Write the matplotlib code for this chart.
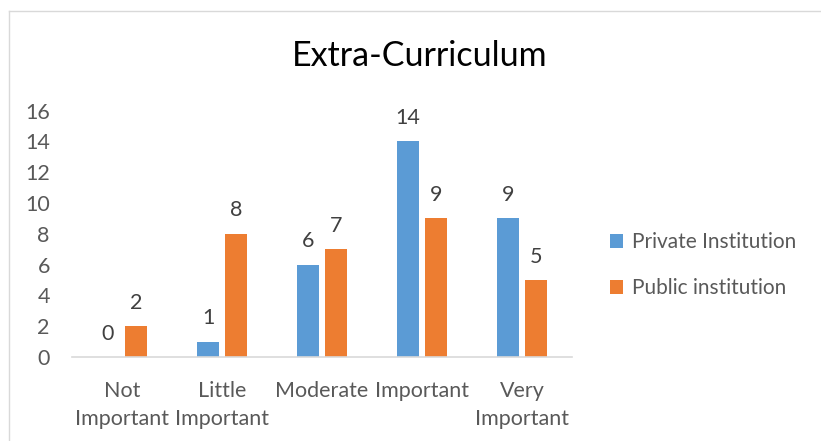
import matplotlib.pyplot as plt
from matplotlib.lines import Line2D
import numpy as np

categories = ["Not\nImportant", "Little\nImportant", "Moderate", "Important", "Very\nImportant"]
private_vals = [0, 1, 6, 14, 9]
public_vals = [2, 8, 7, 9, 5]
series_names = ["Private Institution", "Public institution"]
yticks = [0, 2, 4, 6, 8, 10, 12, 14, 16]

blue = "#5B9BD5"
orange = "#ED7D31"
W, H = 821, 441

plt.rcParams["font.family"] = ["Lato", "DejaVu Sans"]
fig = plt.figure(figsize=(W / 100, H / 100), dpi=100)
ax = fig.add_axes([72 / W, (H - 357) / H, 500 / W, (357 - 110.6) / H])

x = np.arange(len(categories))
bw = 0.22
off = 0.14
b1 = ax.bar(x - off, private_vals, bw, color=blue, label=series_names[0])
b2 = ax.bar(x + off, public_vals, bw, color=orange, label=series_names[1])

for bars, vals in ((b1, private_vals), (b2, public_vals)):
    for rect, v in zip(bars, vals):
        ax.annotate(str(v), (rect.get_x() + rect.get_width() / 2, v),
                    xytext=(0, 12.5), textcoords="offset points",
                    ha="center", va="baseline", fontsize=15.5, color="#404040")

ax.set_xlim(-0.5, len(categories) - 0.5)
ax.set_ylim(0, 16)
ax.set_yticks(yticks)
ax.set_xticks(x)
ax.set_xticklabels(categories, fontsize=15.5, color="#595959", linespacing=1.55)
ax.tick_params(axis="y", length=0, labelsize=15.5, labelcolor="#595959", pad=16)
ax.tick_params(axis="x", length=0, pad=17)
for s in ("top", "right", "left"):
    ax.spines[s].set_visible(False)
ax.spines["bottom"].set_color("#D9D9D9")
ax.spines["bottom"].set_linewidth(1.2)

fig.text(420 / W, 1 - 56 / H, "Extra-Curriculum", ha="center", va="center",
         fontsize=24.5, color="#000000")

ax.legend(loc="center left", bbox_to_anchor=(591 / W, 1 - 265 / H),
          bbox_transform=fig.transFigure, frameon=False, fontsize=15,
          labelcolor="#595959", handlelength=0.65, handleheight=0.65,
          handletextpad=0.4, labelspacing=1.25)

fig.add_artist(Line2D([8.5 / W, 8.5 / W], [0, 1 - 11 / H], color="#D9D9D9", lw=1))
fig.add_artist(Line2D([8.5 / W, 1], [1 - 11 / H, 1 - 11 / H], color="#D9D9D9", lw=1))

fig.savefig("out.png", dpi=100)
